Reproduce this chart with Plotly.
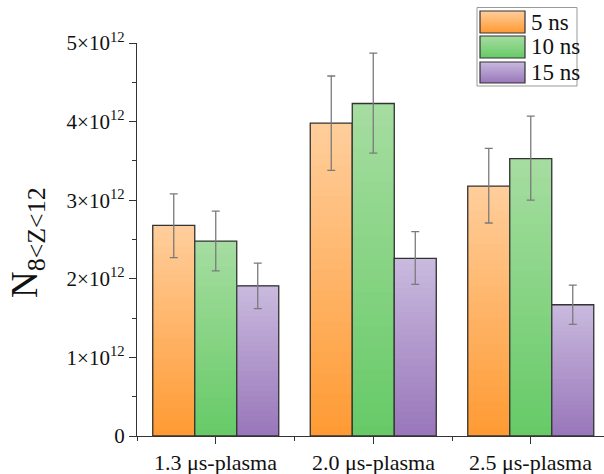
import plotly.graph_objects as go

# ---------------- data (units of 10^12) ----------------
categories = ["1.3 μs-plasma", "2.0 μs-plasma", "2.5 μs-plasma"]
series_names = ["5 ns", "10 ns", "15 ns"]
vals_5ns = [2.68, 3.98, 3.18]
vals_10ns = [2.48, 4.23, 3.53]
vals_15ns = [1.91, 2.26, 1.67]
errp_5ns = [0.40, 0.60, 0.48]
errm_5ns = [0.41, 0.60, 0.47]
errp_10ns = [0.38, 0.64, 0.54]
errm_10ns = [0.38, 0.63, 0.53]
errp_15ns = [0.29, 0.34, 0.25]
errm_15ns = [0.29, 0.33, 0.25]
ytick_vals = [0, 1, 2, 3, 4, 5]
ytick_text = ["0", "1×10<sup>12</sup>", "2×10<sup>12</sup>", "3×10<sup>12</sup>",
              "4×10<sup>12</sup>", "5×10<sup>12</sup>"]

# ---------------- style ----------------
W, H = 604, 474
ML, MR, MT, MB = 137, 0, 43, 38
FONT = "Liberation Serif"
bottom_cols = [(255, 154, 51), (102, 202, 102), (153, 118, 186)]
top_cols = [(255, 206, 156), (166, 221, 161), (201, 186, 222)]
EDGE = "#333333"
NSEG = 30

def mix(c1, c2, t):
    return "rgb(%d,%d,%d)" % tuple(round(a + (b - a) * t) for a, b in zip(c1, c2))

values = [vals_5ns, vals_10ns, vals_15ns]
errp = [errp_5ns, errp_10ns, errp_15ns]
errm = [errm_5ns, errm_10ns, errm_15ns]
xpos = list(range(len(categories)))

fig = go.Figure()
for i, (name, v) in enumerate(zip(series_names, values)):
    # gradient fill: overlapping slices, each from its base up to the bar's top
    for j in range(NSEG):
        t = (j + 0.5) / NSEG
        fig.add_trace(go.Bar(
            x=xpos, y=[vv * (NSEG - j) / NSEG for vv in v], base=[vv * j / NSEG for vv in v],
            offsetgroup=str(i), marker=dict(color=mix(bottom_cols[i], top_cols[i], t), line=dict(width=0)),
            showlegend=False, hoverinfo="skip"))
    # outline + error bars
    fig.add_trace(go.Bar(
        x=xpos, y=v, offsetgroup=str(i), name=name, showlegend=False,
        marker=dict(color="rgba(0,0,0,0)", line=dict(color=EDGE, width=1.3)),
        error_y=dict(type="data", array=errp[i], arrayminus=errm[i], visible=True,
                     color="#7a7a7a", thickness=1.3, width=4),
        cliponaxis=False))

fig.update_layout(
    width=W, height=H, margin=dict(l=ML, r=MR, t=MT, b=MB),
    paper_bgcolor="white", plot_bgcolor="white",
    barmode="group", bargap=0.2, bargroupgap=0,
    font=dict(family=FONT, color="#111111"),
    xaxis=dict(range=[-0.5, 2.465], tickvals=xpos, ticktext=categories, automargin=False,
               ticks="outside", ticklen=7, tickwidth=1.3, tickcolor="#333",
               showline=True, linecolor="#333", linewidth=1.3, showgrid=False, zeroline=False,
               tickfont=dict(size=22, family=FONT, color="#111"),
               minor=dict(tickvals=[-0.5, 0.5, 1.5], ticks="outside", ticklen=4, tickcolor="#333", tickwidth=1.3)),
    yaxis=dict(range=[0, 5], tickvals=ytick_vals, ticktext=ytick_text, automargin=False,
               ticks="outside", ticklen=7, tickwidth=1.3, tickcolor="#333",
               showline=True, linecolor="#333", linewidth=1.3, showgrid=False, zeroline=False,
               tickfont=dict(size=21, family=FONT, color="#111"),
               minor=dict(dtick=0.5, ticks="outside", ticklen=4, tickcolor="#333", tickwidth=1.3)),
)

def px2x(px):
    return (px - ML) / (W - ML - MR)

def py2y(py):
    return (H - MB - py) / (H - MT - MB)

# shift category labels up a little so they sit like the reference
fig.update_xaxes(ticklabelstandoff=0)
fig.update_xaxes(showticklabels=False)
for xv, lab in zip(xpos, categories):
    fig.add_annotation(text=lab, xref="x", yref="paper", x=xv, y=0, yshift=-12,
                       xanchor="center", yanchor="top", showarrow=False,
                       font=dict(size=22, family=FONT, color="#111"))

# y-axis title
fig.add_annotation(text="N<sub>8&lt;Z&lt;12</sub>", xref="paper", yref="paper",
                   x=px2x(27), y=py2y(243), textangle=-90, showarrow=False,
                   font=dict(size=37, family=FONT, color="#111"), xanchor="center", yanchor="middle")

# legend box
shapes = [dict(type="rect", xref="paper", yref="paper", x0=px2x(477), x1=px2x(577),
               y0=py2y(86), y1=py2y(7.5), line=dict(color="#999", width=1), fillcolor="white", layer="above")]
sw_rows = [(11, 33), (36, 58), (62, 83)]
for i, (t0, t1) in enumerate(sw_rows):
    n = 10
    for k in range(n):
        a = t1 - (t1 - t0) * k / n
        shapes.append(dict(type="rect", xref="paper", yref="paper", x0=px2x(480), x1=px2x(525),
                           y0=py2y(a), y1=py2y(t0), line=dict(width=0),
                           fillcolor=mix(bottom_cols[i], top_cols[i], (k + 0.5) / n), layer="above"))
    shapes.append(dict(type="rect", xref="paper", yref="paper", x0=px2x(480), x1=px2x(525),
                       y0=py2y(t1), y1=py2y(t0), line=dict(color=EDGE, width=1.2), layer="above"))
    fig.add_annotation(text=series_names[i], xref="paper", yref="paper", x=px2x(529), y=py2y((t0 + t1) / 2),
                       xanchor="left", yanchor="middle", showarrow=False,
                       font=dict(size=23, family=FONT, color="#111"))
fig.update_layout(shapes=shapes)

fig.write_html("out.html")
